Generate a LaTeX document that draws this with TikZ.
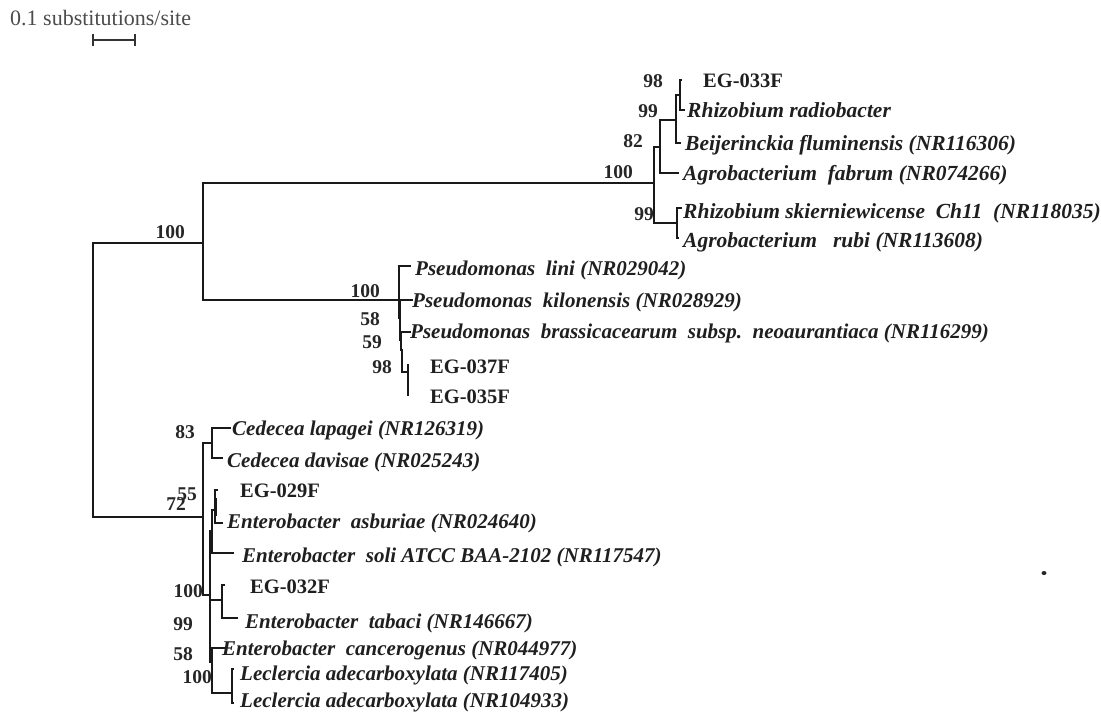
\documentclass[tikz,border=0pt]{standalone}
\usepackage{fontspec}
\setmainfont{Liberation Serif}
\begin{document}
\begin{tikzpicture}[x=1pt,y=-1pt,
  br/.style={line width=1.5pt, black!90, line cap=rect},
  taxon/.style={anchor=base west, inner sep=0pt, text=black!88, font=\fontsize{21}{24}\selectfont\bfseries\itshape},
  taxonw/.style={taxon, font=\fontsize{21.5}{24}\selectfont\bfseries\itshape},
  iso/.style={anchor=base west, inner sep=0pt, text=black!88, font=\fontsize{20.5}{23}\selectfont\bfseries},
  bs/.style={anchor=base east, inner sep=0pt, text=black!85, font=\fontsize{19.5}{22}\selectfont\bfseries},
]
\fill[white] (0,0) rectangle (1101,724);
\useasboundingbox (0,0) rectangle (1101,724);

% scale bar
\node[anchor=base west, inner sep=0pt, text=black!70, font=\fontsize{22}{24}\selectfont] (scaletext) at (10,25) {0.1 substitutions/site};
\coordinate (sbL) at (93,40);
\coordinate (sbR) at (135,40);
\draw[line width=1.3pt, black!80] (sbL) -- (sbR);
\draw[line width=1.3pt, black!80] ([yshift=-6pt]sbL) -- ([yshift=6pt]sbL);
\draw[line width=1.3pt, black!80] ([yshift=-6pt]sbR) -- ([yshift=6pt]sbR);

% internal nodes
\coordinate (root) at (93,380);
\coordinate (nA) at (203,243);
\coordinate (nB) at (654,183);
\coordinate (n82) at (660,147);
\coordinate (n99b) at (677,223);
\coordinate (n99a) at (676,120);
\coordinate (n98) at (680,95);
\coordinate (nD) at (399,300);
\coordinate (n58) at (400,318);
\coordinate (n59) at (401,340);
\coordinate (n98p) at (402,350);
\coordinate (nEG) at (408,372);
\coordinate (nE) at (203,517);
\coordinate (nCed) at (212,443);
\coordinate (nF) at (210,595);
\coordinate (nG) at (212,531);
\coordinate (n55) at (215,510);
\coordinate (nH) at (222,600);
\coordinate (nI) at (212,662);
\coordinate (nLec) at (232,693);

% leaves
\coordinate (lEG033) at (681,80);
\coordinate (lRrad) at (684,110);
\coordinate (lBeij) at (680,143);
\coordinate (lAfab) at (678,173);
\coordinate (lRski) at (681,208);
\coordinate (lArub) at (678,238);
\coordinate (lPlin) at (410,266);
\coordinate (lPkil) at (412,300);
\coordinate (lPbra) at (410,332);
\coordinate (lEG037) at (408,365);
\coordinate (lEG035) at (408,395);
\coordinate (lClap) at (230,428);
\coordinate (lCdav) at (222,458);
\coordinate (lEG029) at (217,490);
\coordinate (lEasb) at (222,523);
\coordinate (lEsol) at (233,553);
\coordinate (lEG032) at (224,585);
\coordinate (lEtab) at (237,618);
\coordinate (lEcan) at (224,648);
\coordinate (lLec1) at (233,669);
\coordinate (lLec2) at (233,703);

% branches
\draw[br] (root) |- (nA);
\draw[br] (root) |- (nE);
\draw[br] (nA) |- (nB);
\draw[br] (nA) |- (nD);
\draw[br] (nB) |- (n82);
\draw[br] (nB) |- (n99b);
\draw[br] (n82) |- (n99a);
\draw[br] (n82) |- (lAfab);
\draw[br] (n99a) |- (n98);
\draw[br] (n99a) |- (lBeij);
\draw[br] (n98) |- (lEG033);
\draw[br] (n98) |- (lRrad);
\draw[br] (n99b) |- (lRski);
\draw[br] (n99b) |- (lArub);
\draw[br] (nD) |- (lPlin);
\draw[br] (nD) |- (n58);
\draw[br] (n58) |- (lPkil);
\draw[br] (n58) |- (n59);
\draw[br] (n59) |- (lPbra);
\draw[br] (n59) |- (n98p);
\draw[br] (n98p) |- (nEG);
\draw[br] (nEG) |- (lEG037);
\draw[br] (nEG) |- (lEG035);
\draw[br] (nE) |- (nCed);
\draw[br] (nE) |- (nF);
\draw[br] (nCed) |- (lClap);
\draw[br] (nCed) |- (lCdav);
\draw[br] (nF) |- (nG);
\draw[br] (nF) |- (nH);
\draw[br] (nF) |- (nI);
\draw[br] (nG) |- (n55);
\draw[br] (nG) |- (lEsol);
\draw[br] (n55) |- (lEG029);
\draw[br] (n55) |- (lEasb);
\draw[line width=3pt, black!90] ([yshift=-6pt]n55) -- ([yshift=12pt]n55);
\draw[br] (nH) |- (lEG032);
\draw[br] (nH) |- (lEtab);
\draw[br] (nI) |- (lEcan);
\draw[br] (nI) |- (nLec);
\draw[br] (nLec) |- (lLec1);
\draw[br] (nLec) |- (lLec2);

% taxon labels
\node[iso] (tEG033) at (703,87) {EG-033F};
\node[taxonw] (tRrad) at (687,117) {Rhizobium radiobacter};
\node[taxonw] (tBeij) at (685,150) {Beijerinckia fluminensis (NR116306)};
\node[taxonw] (tAfab) at (683,180) {Agrobacterium\ \ fabrum (NR074266)};
\node[taxonw] (tRski) at (683,218) {Rhizobium\ skierniewicense\ \ Ch11\ \ (NR118035)};
\node[taxonw] (tArub) at (683,247) {Agrobacterium\ \ \ rubi (NR113608)};
\node[taxon] (tPlin) at (415,275) {Pseudomonas\ \ lini (NR029042)};
\node[taxon] (tPkil) at (412,307) {Pseudomonas\ \ kilonensis (NR028929)};
\node[taxon] (tPbra) at (410,338) {Pseudomonas\ \ brassicacearum\ \ subsp.\ \ neoaurantiaca (NR116299)};
\node[iso] (tEG037) at (430,373) {EG-037F};
\node[iso] (tEG035) at (430,403) {EG-035F};
\node[taxon] (tClap) at (232,435) {Cedecea lapagei (NR126319)};
\node[taxon] (tCdav) at (227,467) {Cedecea davisae (NR025243)};
\node[iso] (tEG029) at (240,497) {EG-029F};
\node[taxon] (tEasb) at (227,528) {Enterobacter\ \ asburiae (NR024640)};
\node[taxon] (tEsol) at (242,562) {Enterobacter\ \ soli ATCC BAA-2102 (NR117547)};
\node[iso] (tEG032) at (250,593) {EG-032F};
\node[taxon] (tEtab) at (245,628) {Enterobacter\ \ tabaci (NR146667)};
\node[taxon] (tEcan) at (222,655) {Enterobacter\ \ cancerogenus (NR044977)};
\node[taxon] (tLec1) at (240,680) {Leclercia adecarboxylata (NR117405)};
\node[taxon] (tLec2) at (240,707) {Leclercia adecarboxylata (NR104933)};

% bootstrap values
\node[bs] (b98a) at (663,87) {98};
\node[bs] (b99a) at (658,117) {99};
\node[bs] (b82) at (643,147) {82};
\node[bs] (b100B) at (633,178) {100};
\node[bs] (b99b) at (654,220) {99};
\node[bs] (b100root) at (185,238) {100};
\node[bs] (b100D) at (380,297) {100};
\node[bs] (b58p) at (380,325) {58};
\node[bs] (b59) at (382,348) {59};
\node[bs] (b98p) at (392,373) {98};
\node[bs] (b83) at (195,438) {83};
\node[bs] (b72) at (186,510) {72};
\node[bs] (b55) at (197,500) {55};
\node[bs] (b100E) at (203,597) {100};
\node[bs] (b99E) at (193,630) {99};
\node[bs] (b58E) at (193,660) {58};
\node[bs] (b100I) at (212,683) {100};

% speck
\fill[black!85] (1044,573) ellipse (2.5pt and 2pt);
\end{tikzpicture}
\end{document}
